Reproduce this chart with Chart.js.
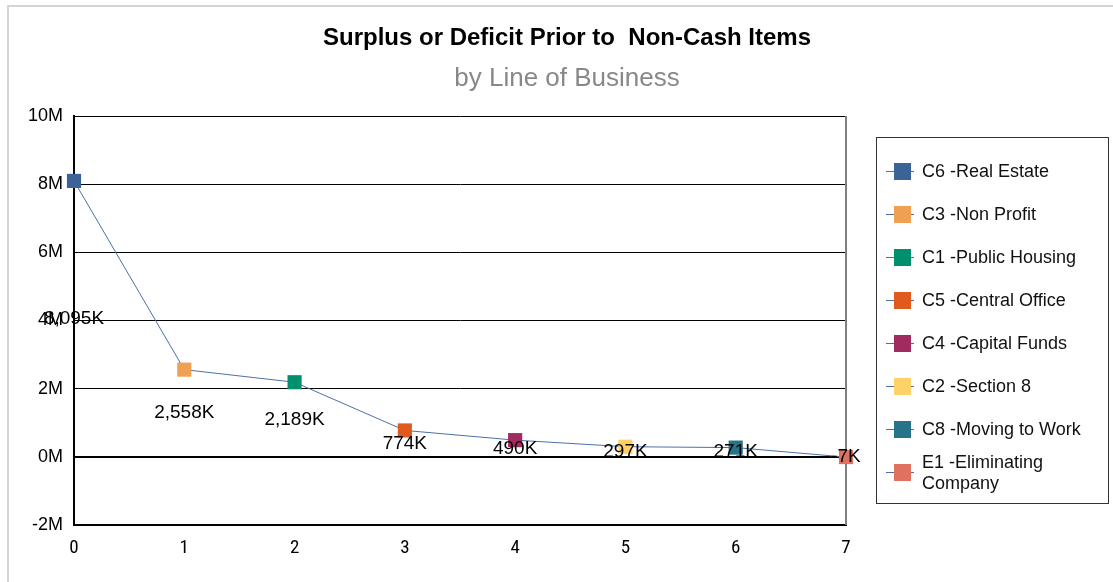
<!DOCTYPE html>
<html>
<head>
<meta charset="utf-8">
<script src="https://cdn.jsdelivr.net/npm/chart.js@4/dist/chart.umd.min.js"></script>
<style>
  body { margin: 0; background: #fff; font-family: "Liberation Sans", Arial, sans-serif; }
  #wrap { position: relative; width: 1113px; height: 582px; overflow: hidden; }
  #frame { position: absolute; left: 7px; top: 5px; width: 1200px; height: 700px; border-left: 2px solid #d4d4d4; border-top: 2px solid #d4d4d4; }
  canvas { position: absolute; left: 0; top: 0; }
  .title { position: absolute; left: 167px; width: 800px; text-align: center; white-space: nowrap; }
  #t1 { top: 23px; font-size: 24px; font-weight: bold; color: #000; }
  #t2 { top: 62px; font-size: 26px; color: #888; }
  #legend { position: absolute; left: 876px; top: 137px; width: 233px; height: 367px; border: 1px solid #333; box-sizing: border-box; padding-top: 12px; }
  .item { position: relative; height: 43px; display: flex; align-items: center; }
  .mark { position: relative; width: 28px; height: 17px; margin-left: 9px; margin-right: 8px; flex: none; }
  .mark .ln { position: absolute; left: 0; right: 0; top: 8px; height: 1px; background: #4a70a8; }
  .mark .sq { position: absolute; left: 8px; top: 0; width: 17px; height: 17px; }
  .txt { font-size: 18px; color: #111; line-height: 21px; max-width: 180px; }
</style>
</head>
<body>
<div id="wrap">
  <div id="frame"></div>
  <canvas id="c" width="1113" height="582"></canvas>
  <div class="title" id="t1">Surplus or Deficit Prior to&nbsp; Non-Cash Items</div>
  <div class="title" id="t2">by Line of Business</div>
  <div id="legend"></div>
</div>
<script>
// data
const categories = ['C6 -Real Estate', 'C3 -Non Profit', 'C1 -Public Housing', 'C5 -Central Office',
  'C4 -Capital Funds', 'C2 -Section 8', 'C8 -Moving to Work', 'E1 -Eliminating Company'];
const xPositions = [0, 1, 2, 3, 4, 5, 6, 7];
const values = [8095000, 2558000, 2189000, 774000, 490000, 297000, 271000, -7000];
const pointColors = ['#3b6397', '#f0a053', '#00906f', '#e05a1e', '#a12a5e', '#ffd166', '#277389', '#e07060'];
const yTicks = [-2000000, 0, 2000000, 4000000, 6000000, 8000000, 10000000];

const FONT = '"Liberation Sans", Arial, sans-serif';

function fmtK(v) {
  return Math.round(v / 1000).toLocaleString('en-US') + 'K';
}

// legend built from the same arrays
const legendEl = document.getElementById('legend');
categories.forEach((name, i) => {
  legendEl.insertAdjacentHTML('beforeend',
    `<div class="item"><div class="mark"><div class="ln"></div><div class="sq" style="background:${pointColors[i]}"></div></div><div class="txt">${name}</div></div>`);
});

// value labels sit at half the value height, centred on the point
const valueLabels = {
  id: 'valueLabels',
  afterDatasetsDraw(chart) {
    const ctx = chart.ctx;
    const meta = chart.getDatasetMeta(0);
    const y = chart.scales.y;
    ctx.save();
    ctx.font = '19px ' + FONT;
    ctx.fillStyle = '#000';
    ctx.textAlign = 'center';
    ctx.textBaseline = 'middle';
    meta.data.forEach((pt, i) => {
      ctx.fillText(fmtK(values[i]), pt.x, y.getPixelForValue(values[i] / 2));
    });
    ctx.restore();
  }
};

// grey right edge of the plot area
const rightEdge = {
  id: 'rightEdge',
  beforeDatasetsDraw(chart) {
    const a = chart.chartArea;
    const ctx = chart.ctx;
    ctx.save();
    ctx.strokeStyle = '#808080';
    ctx.lineWidth = 2;
    ctx.beginPath();
    ctx.moveTo(a.right, a.top);
    ctx.lineTo(a.right, a.bottom);
    ctx.stroke();
    ctx.restore();
  }
};

new Chart(document.getElementById('c'), {
  type: 'line',
  data: {
    datasets: [{
      data: xPositions.map((x, i) => ({ x: x, y: values[i] })),
      borderColor: '#4a70a8',
      borderWidth: 1,
      tension: 0,
      pointStyle: 'rect',
      pointRadius: 10,
      pointBorderWidth: 0,
      pointBackgroundColor: pointColors,
      pointBorderColor: pointColors,
      clip: false
    }]
  },
  options: {
    responsive: false,
    animation: false,
    layout: { padding: { top: 116, right: 267, left: 0, bottom: 0 } },
    plugins: {
      legend: { display: false },
      tooltip: { enabled: false }
    },
    scales: {
      x: {
        type: 'linear',
        min: 0,
        max: 7,
        ticks: { stepSize: 1, color: '#000', padding: 12, font: { family: '"Liberation Sans Narrow", "Roboto Condensed", "Liberation Sans", Arial', size: 19 } },
        grid: { display: false, drawTicks: false },
        border: { display: true, color: '#000', width: 2 },
        afterFit(s) { s.height = 57; }
      },
      y: {
        min: -2000000,
        max: 10000000,
        afterBuildTicks(s) { s.ticks = yTicks.map(v => ({ value: v })); },
        ticks: {
          color: '#000',
          padding: 11,
          font: { family: FONT, size: 18 },
          callback: v => (v / 1000000) + 'M'
        },
        grid: {
          drawTicks: false,
          color: '#000',
          lineWidth: c => (c.tick && c.tick.value === 0 ? 2 : 1)
        },
        border: { display: true, color: '#000', width: 2 },
        afterFit(s) { s.width = 74; }
      }
    }
  },
  plugins: [rightEdge, valueLabels]
});
</script>
</body>
</html>
